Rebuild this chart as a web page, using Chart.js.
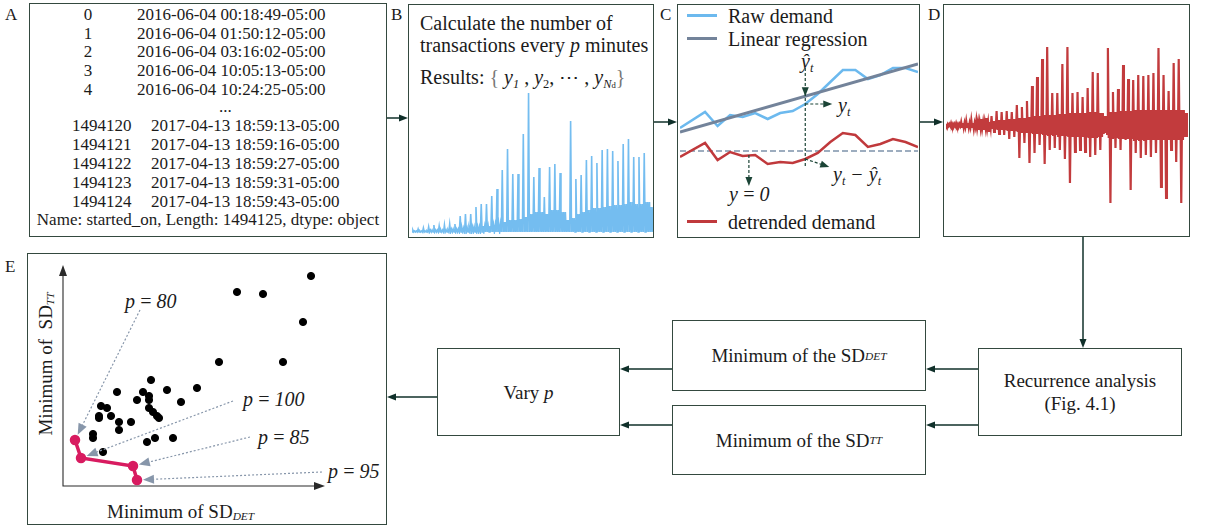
<!DOCTYPE html>
<html>
<head>
<meta charset="utf-8">
<script src="https://cdn.jsdelivr.net/npm/chart.js@4.4.0/dist/chart.umd.min.js"></script>
<style>
body{margin:0;background:#fff;}
#fig{position:relative;width:1205px;height:531px;overflow:hidden;font-family:"Liberation Serif","Times New Roman",serif;color:#1b1b1b;}
.box{position:absolute;border:1.5px solid #34493f;box-sizing:border-box;}
.flow{display:flex;align-items:center;justify-content:center;text-align:center;font-size:19px;line-height:23px;}
.t{position:absolute;white-space:nowrap;line-height:1;}
.a{font-size:17px;}
.big{font-size:20px;}
.it{font-style:italic;}
.sb{font-size:0.6em;font-style:italic;vertical-align:-0.2em;line-height:0;}
sub{font-size:0.62em;vertical-align:-0.3em;line-height:0;}
canvas{position:absolute;}
.key{position:absolute;height:3px;width:30px;}
</style>
</head>
<body>
<div id="fig">
  <!-- panel boxes -->
  <div class="box" style="left:29px;top:3px;width:358px;height:234px"></div>
  <div class="box" style="left:408px;top:4px;width:246px;height:234px"></div>
  <div class="box" style="left:677px;top:4px;width:243px;height:234px"></div>
  <div class="box" style="left:943px;top:4px;width:247px;height:233px"></div>
  <div class="box" style="left:27px;top:253px;width:360px;height:272px"></div>
  <div class="box flow" style="left:437px;top:348px;width:183px;height:88px">Vary&nbsp;<i>p</i></div>
  <div class="box flow" style="left:672px;top:320px;width:254px;height:71px">Minimum of the SD<span class="sb">DET</span></div>
  <div class="box flow" style="left:672px;top:405px;width:254px;height:70px">Minimum of the SD<span class="sb">TT</span></div>
  <div class="box flow" style="left:978px;top:348px;width:204px;height:88px">Recurrence analysis<br>(Fig. 4.1)</div>

  <!-- panel letters -->
  <div class="t a" style="left:5px;top:6px">A</div>
  <div class="t a" style="left:391px;top:6px">B</div>
  <div class="t a" style="left:660px;top:6px">C</div>
  <div class="t a" style="left:928px;top:6px">D</div>
  <div class="t a" style="left:5px;top:258px">E</div>

  <!-- panel A: raw records -->
  <div class="t a" style="left:78px;width:20px;text-align:center;top:6px">0</div>
  <div class="t a" style="left:78px;width:20px;text-align:center;top:25px">1</div>
  <div class="t a" style="left:78px;width:20px;text-align:center;top:43px">2</div>
  <div class="t a" style="left:78px;width:20px;text-align:center;top:62px">3</div>
  <div class="t a" style="left:78px;width:20px;text-align:center;top:81px">4</div>
  <div class="t a" style="left:137px;top:6px">2016-06-04 00:18:49-05:00</div>
  <div class="t a" style="left:137px;top:25px">2016-06-04 01:50:12-05:00</div>
  <div class="t a" style="left:137px;top:43px">2016-06-04 03:16:02-05:00</div>
  <div class="t a" style="left:137px;top:62px">2016-06-04 10:05:13-05:00</div>
  <div class="t a" style="left:137px;top:81px">2016-06-04 10:24:25-05:00</div>
  <div class="t a" style="left:219px;top:98px">...</div>
  <div class="t a" style="left:72px;top:117px">1494120</div>
  <div class="t a" style="left:72px;top:136px">1494121</div>
  <div class="t a" style="left:72px;top:155px">1494122</div>
  <div class="t a" style="left:72px;top:174px">1494123</div>
  <div class="t a" style="left:72px;top:193px">1494124</div>
  <div class="t a" style="left:151px;top:117px">2017-04-13 18:59:13-05:00</div>
  <div class="t a" style="left:151px;top:136px">2017-04-13 18:59:16-05:00</div>
  <div class="t a" style="left:151px;top:155px">2017-04-13 18:59:27-05:00</div>
  <div class="t a" style="left:151px;top:174px">2017-04-13 18:59:31-05:00</div>
  <div class="t a" style="left:151px;top:193px">2017-04-13 18:59:43-05:00</div>
  <div class="t a" style="left:30px;width:356px;text-align:center;top:211px">Name: started_on, Length: 1494125, dtype: object</div>

  <!-- panel B text -->
  <div class="t big" style="left:420px;top:13px">Calculate the number of</div>
  <div class="t big" style="left:420px;top:35px">transactions every <i>p</i> minutes</div>
  <div class="t big" style="left:420px;top:67px">Results: <span style="color:#777">{</span> <i>y</i><sub><i>1</i></sub> , <i>y</i><sub>2</sub>, ⋯ , <i>y</i><sub><i>N</i><span style="font-size:0.7em">d</span></sub><span style="color:#777">}</span></div>

  <!-- panel C legend and notes -->
  <div class="key" style="left:687px;top:14px;background:#6cb9ee"></div>
  <div class="key" style="left:687px;top:37px;background:#73839a"></div>
  <div class="key" style="left:687px;top:220px;background:#c0393c"></div>
  <div class="t big" style="left:728px;top:6px">Raw demand</div>
  <div class="t big" style="left:728px;top:29px">Linear regression</div>
  <div class="t big" style="left:728px;top:212px">detrended demand</div>
  <div class="t big it" style="left:801px;top:51px">ŷ<sub>t</sub></div>
  <div class="t big it" style="left:838px;top:95px">y<sub>t</sub></div>
  <div class="t big it" style="left:833px;top:164px">y<sub>t</sub> − ŷ<sub>t</sub></div>
  <div class="t big it" style="left:729px;top:184px">y&thinsp;=&thinsp;0</div>

  <!-- panel E text -->
  <div class="t big it" style="left:125px;top:291px">p&thinsp;=&thinsp;80</div>
  <div class="t big it" style="left:243px;top:389px">p&thinsp;=&thinsp;100</div>
  <div class="t big it" style="left:258px;top:427px">p&thinsp;=&thinsp;85</div>
  <div class="t big it" style="left:328px;top:461px">p&thinsp;=&thinsp;95</div>
  <div class="t" style="left:107px;top:502px;font-size:19px">Minimum of SD<span class="sb">DET</span></div>
  <div class="t" style="left:45px;top:364px;font-size:19px;transform:translate(-50%,-50%) rotate(-90deg)">Minimum of&nbsp; SD<span class="sb">TT</span></div>

  <!-- connectors -->
  <svg width="1205" height="531" style="position:absolute;left:0;top:0">
    <g stroke="#10302a" stroke-width="1.5" fill="none">
      <line x1="387" y1="118" x2="401" y2="118"/>
      <line x1="654" y1="122" x2="670" y2="122"/>
      <line x1="920" y1="122" x2="936" y2="122"/>
      <line x1="1083" y1="237" x2="1083" y2="341"/>
      <line x1="978" y1="369" x2="933" y2="369"/>
      <line x1="978" y1="425" x2="933" y2="425"/>
      <line x1="672" y1="369" x2="627" y2="369"/>
      <line x1="672" y1="425" x2="627" y2="425"/>
      <line x1="437" y1="397" x2="394" y2="397"/>
    </g>
    <g fill="#10302a">
      <polygon points="408,118 399,114.5 399,121.5"/>
      <polygon points="677,122 668,118.5 668,125.5"/>
      <polygon points="943,122 934,118.5 934,125.5"/>
      <polygon points="1083,348 1079.5,339 1086.5,339"/>
      <polygon points="926,369 935,365.5 935,372.5"/>
      <polygon points="926,425 935,421.5 935,428.5"/>
      <polygon points="620,369 629,365.5 629,372.5"/>
      <polygon points="620,425 629,421.5 629,428.5"/>
      <polygon points="387,397 396,393.5 396,400.5"/>
    </g>
  </svg>

  <canvas id="chartB" width="241" height="148" style="left:412px;top:86px"></canvas>
  <canvas id="chartC" width="241" height="230" style="left:679px;top:6px"></canvas>
  <canvas id="chartD" width="242" height="170" style="left:946px;top:40px"></canvas>
  <canvas id="chartE" width="356" height="268" style="left:29px;top:255px"></canvas>
</div>

<script>
// B: transactions per p minutes, one daily peak and one busy-hour level per day
const bPeaks = [2,3,4,5,7,6,7,8,8,16, 18,18,25,28,28,36,43,62,83,58, 58,98,139,55,64,35,65,68,59,20,
                111,53,57,72,76,69,82,83,81,71, 88,93,75,75,79,30];
const bBusy = [1,1,1,2,2,2,2,3,3,4, 4,5,5,6,6,7,8,10,12,12, 13,15,18,20,20,18,22,22,20,12,
               14,18,20,22,24,24,25,26,27,27, 28,30,28,28,30,25];

// C: zoomed window of raw demand, its trend and the detrended series
const cTime = [0,2,3,4,5,6,7,8,9,10,11,12,13,14,15,16,17,18,19];
const cRaw = [23,39,25,36,34,38,32,38,40,47,57,69,81,81,72,76,83,83,79];
const cTrendTime = [0,19];
const cTrend = [19,87];
const cDetrended = [-6,8,-9,-1,-5,-4,-13,-11,-12,-8,-2,9,18,16,4,7,12,9,4];

// D: detrended demand, daily max / min and the busy-hour swing
const dUp = [1,2,2,3,4,5,5,6,7, 9,14,13,14,13,20,18,24,39,48,66,78,32,32,61,78,
             32,33,28,37,53,52,12,77,33,36,60,46,45,50,49,50,52,77,50,34,62,66,15];
const dDown = [-1,-2,-2,-3,-3,-4,-5,-5,-6, -7,-9,-10,-14,-12,-33,-18,-38,-28,-20,-39,-25,-23,-25,-34,-58,
               -27,-25,-27,-32,-30,-25,-8,-78,-23,-25,-15,-65,-28,-33,-30,-32,-28,-62,-73,-25,-37,-78,-12];
const dBand = [1,1,1,2,2,2,3,3,3, 4,5,5,6,6,7,7,8,9,9,10,10,10,11,11,12,
               12,12,12,13,13,12,9,13,13,14,14,14,15,15,15,15,15,15,15,15,15,15,12];

// E: minimum SD_DET vs minimum SD_TT for each p
const eDet = [1.24,0.87,1.00,1.20,0.78,1.10,0.44,0.27,0.40,0.52,0.67,0.37,0.43,0.43,0.59,0.19,0.22,
              0.43,0.45,0.47,0.48,0.18,0.18,0.24,0.28,0.34,0.28,0.15,0.15,0.46,0.55,0.42,0.20];
const eTT = [1.05,0.97,0.96,0.82,0.62,0.62,0.53,0.47,0.47,0.48,0.49,0.43,0.45,0.43,0.42,0.40,0.39,
             0.39,0.37,0.35,0.34,0.35,0.34,0.35,0.32,0.32,0.28,0.26,0.24,0.24,0.24,0.22,0.17];
const paretoP = ['80','100','85','95'];
const paretoDet = [0.06,0.09,0.35,0.37];
const paretoTT = [0.23,0.14,0.10,0.03];

const quiet = { legend: {display: false}, tooltip: {enabled: false} };

function head(ctx, x1, y1, x2, y2, len, half) {
    const a = Math.atan2(y2 - y1, x2 - x1);
    const bx = x2 - len * Math.cos(a), by = y2 - len * Math.sin(a);
    ctx.beginPath();
    ctx.moveTo(x2, y2);
    ctx.lineTo(bx + half * Math.sin(a), by - half * Math.cos(a));
    ctx.lineTo(bx - half * Math.sin(a), by + half * Math.cos(a));
    ctx.closePath();
    ctx.fill();
}

function dashArrow(ctx, x1, y1, x2, y2, color, dash, len, half) {
    const a = Math.atan2(y2 - y1, x2 - x1);
    ctx.save();
    ctx.strokeStyle = color;
    ctx.fillStyle = color;
    ctx.lineWidth = 1.2;
    ctx.setLineDash(dash);
    ctx.beginPath();
    ctx.moveTo(x1, y1);
    ctx.lineTo(x2 - len * 0.8 * Math.cos(a), y2 - len * 0.8 * Math.sin(a));
    ctx.stroke();
    ctx.setLineDash([]);
    head(ctx, x1, y1, x2, y2, len, half);
    ctx.restore();
}

/**
 * B
 */
const bSeries = [];
bPeaks.forEach(function(pk, i) {
    bSeries.push(0, pk, 0, bBusy[i], 0, bBusy[i]);
});

new Chart(document.getElementById('chartB'), {
    type: 'line',
    data: {
        labels: bSeries.map(function(v, i) { return i; }),
        datasets: [{ data: bSeries, borderColor: '#74bdf0', borderWidth: 1.6, pointRadius: 0, tension: 0 }]
    },
    options: {
        responsive: false, animation: false, events: [],
        plugins: quiet,
        scales: { x: {display: false}, y: {display: false, min: -2, max: 146} }
    }
});

/**
 * C
 */
const cNotes = {
    id: 'cNotes',
    afterDatasetsDraw(chart) {
        const ctx = chart.ctx, x = chart.scales.x, y = chart.scales.y;
        const k = 9;
        const t = cTime[k];
        const px = x.getPixelForValue(t);
        const trendAtT = cTrend[0] + (cTrend[1] - cTrend[0]) * (t - cTrendTime[0]) / (cTrendTime[1] - cTrendTime[0]);
        const yHat = y.getPixelForValue(trendAtT);
        const yRaw = y.getPixelForValue(cRaw[k]);
        const yDet = y.getPixelForValue(cDetrended[k]);
        const col = '#1b4436';

        ctx.save();
        ctx.strokeStyle = col;
        ctx.fillStyle = col;
        ctx.lineWidth = 1.2;
        ctx.setLineDash([3, 2]);
        ctx.beginPath();
        ctx.moveTo(px, y.getPixelForValue(83));
        ctx.lineTo(px, y.getPixelForValue(-16));
        ctx.stroke();
        ctx.setLineDash([]);
        head(ctx, px, yHat - 20, px, yHat, 9, 3.5);
        ctx.restore();

        dashArrow(ctx, px, yRaw, px + 27, yRaw, col, [3, 2], 9, 3.5);
        dashArrow(ctx, px, yDet, px + 24, yDet + 8, col, [3, 2], 9, 3.5);
        const x0 = x.getPixelForValue(5.5);
        dashArrow(ctx, x0, y.getPixelForValue(-4), x0, y.getPixelForValue(-35), col, [3, 2], 9, 3.5);
    }
};

new Chart(document.getElementById('chartC'), {
    type: 'line',
    data: {
        datasets: [
            { data: cTrendTime.map(function(t, i) { return {x: t, y: cTrend[i]}; }), borderColor: '#73839a', borderWidth: 3 },
            { data: cTime.map(function(t, i) { return {x: t, y: cRaw[i]}; }), borderColor: '#6cb9ee', borderWidth: 2.5 },
            { data: cTime.map(function(t, i) { return {x: t, y: cDetrended[i]}; }), borderColor: '#c0393c', borderWidth: 2.5 },
            { data: [{x: 0, y: 0}, {x: 19, y: 0}], borderColor: '#7d92aa', borderWidth: 1.3, borderDash: [6, 3] }
        ]
    },
    options: {
        responsive: false, animation: false, events: [],
        elements: { point: {radius: 0}, line: {tension: 0} },
        layout: { padding: {left: 1, right: 2, top: 44, bottom: 56} },
        plugins: quiet,
        scales: {
            x: {type: 'linear', display: false, min: 0, max: 19},
            y: {display: false, min: -29, max: 101}
        }
    },
    plugins: [cNotes]
});

/**
 * D
 */
const dSeries = [];
dUp.forEach(function(up, i) {
    dSeries.push(up, -dBand[i], dBand[i], dDown[i], dBand[i], -dBand[i]);
});

new Chart(document.getElementById('chartD'), {
    type: 'line',
    data: {
        labels: dSeries.map(function(v, i) { return i; }),
        datasets: [{ data: dSeries, borderColor: '#c23b3d', borderWidth: 2.2, pointRadius: 0, tension: 0 }]
    },
    options: {
        responsive: false, animation: false, events: [],
        plugins: quiet,
        scales: { x: {display: false}, y: {display: false, min: -85, max: 85} }
    }
});

/**
 * E
 */
const eDecor = {
    id: 'eDecor',
    beforeDatasetsDraw(chart) {
        const ctx = chart.ctx, a = chart.chartArea;
        ctx.save();
        ctx.strokeStyle = '#2a2a2a';
        ctx.fillStyle = '#2a2a2a';
        ctx.lineWidth = 1.1;
        ctx.beginPath();
        ctx.moveTo(a.left, a.top + 6);
        ctx.lineTo(a.left, a.bottom);
        ctx.lineTo(a.right - 6, a.bottom);
        ctx.stroke();
        head(ctx, a.left, a.bottom, a.right, a.bottom, 11, 4);
        head(ctx, a.left, a.bottom, a.left, a.top, 11, 4);
        ctx.restore();
    },
    afterDatasetsDraw(chart) {
        const ctx = chart.ctx, x = chart.scales.x, y = chart.scales.y;
        // where each p label sits, in data units
        const from = [[0.385, 0.88], [0.85, 0.425], [0.935, 0.245], [1.295, 0.07]];
        paretoP.forEach(function(p, i) {
            const sx = x.getPixelForValue(from[i][0]), sy = y.getPixelForValue(from[i][1]);
            const tx = x.getPixelForValue(paretoDet[i]), ty = y.getPixelForValue(paretoTT[i]);
            const d = Math.hypot(sx - tx, sy - ty);
            dashArrow(ctx, sx, sy, tx + (sx - tx) * 6 / d, ty + (sy - ty) * 6 / d, '#8796aa', [2, 2], 11, 4.5);
        });
    }
};

new Chart(document.getElementById('chartE'), {
    type: 'scatter',
    data: {
        datasets: [
            { type: 'line', data: paretoDet.map(function(v, i) { return {x: v, y: paretoTT[i]}; }),
              borderColor: '#d81b60', backgroundColor: '#d81b60', borderWidth: 3.5, pointRadius: 3.5, tension: 0 },
            { data: eDet.map(function(v, i) { return {x: v, y: eTT[i]}; }),
              backgroundColor: '#000', borderColor: '#000', pointRadius: 3.6 }
        ]
    },
    options: {
        responsive: false, animation: false, events: [],
        layout: { padding: {left: 34, right: 60, top: 10, bottom: 37} },
        plugins: quiet,
        scales: {
            x: {type: 'linear', display: false, min: 0, max: 1.31},
            y: {display: false, min: 0, max: 1.105}
        }
    },
    plugins: [eDecor]
});
</script>
</body>
</html>
